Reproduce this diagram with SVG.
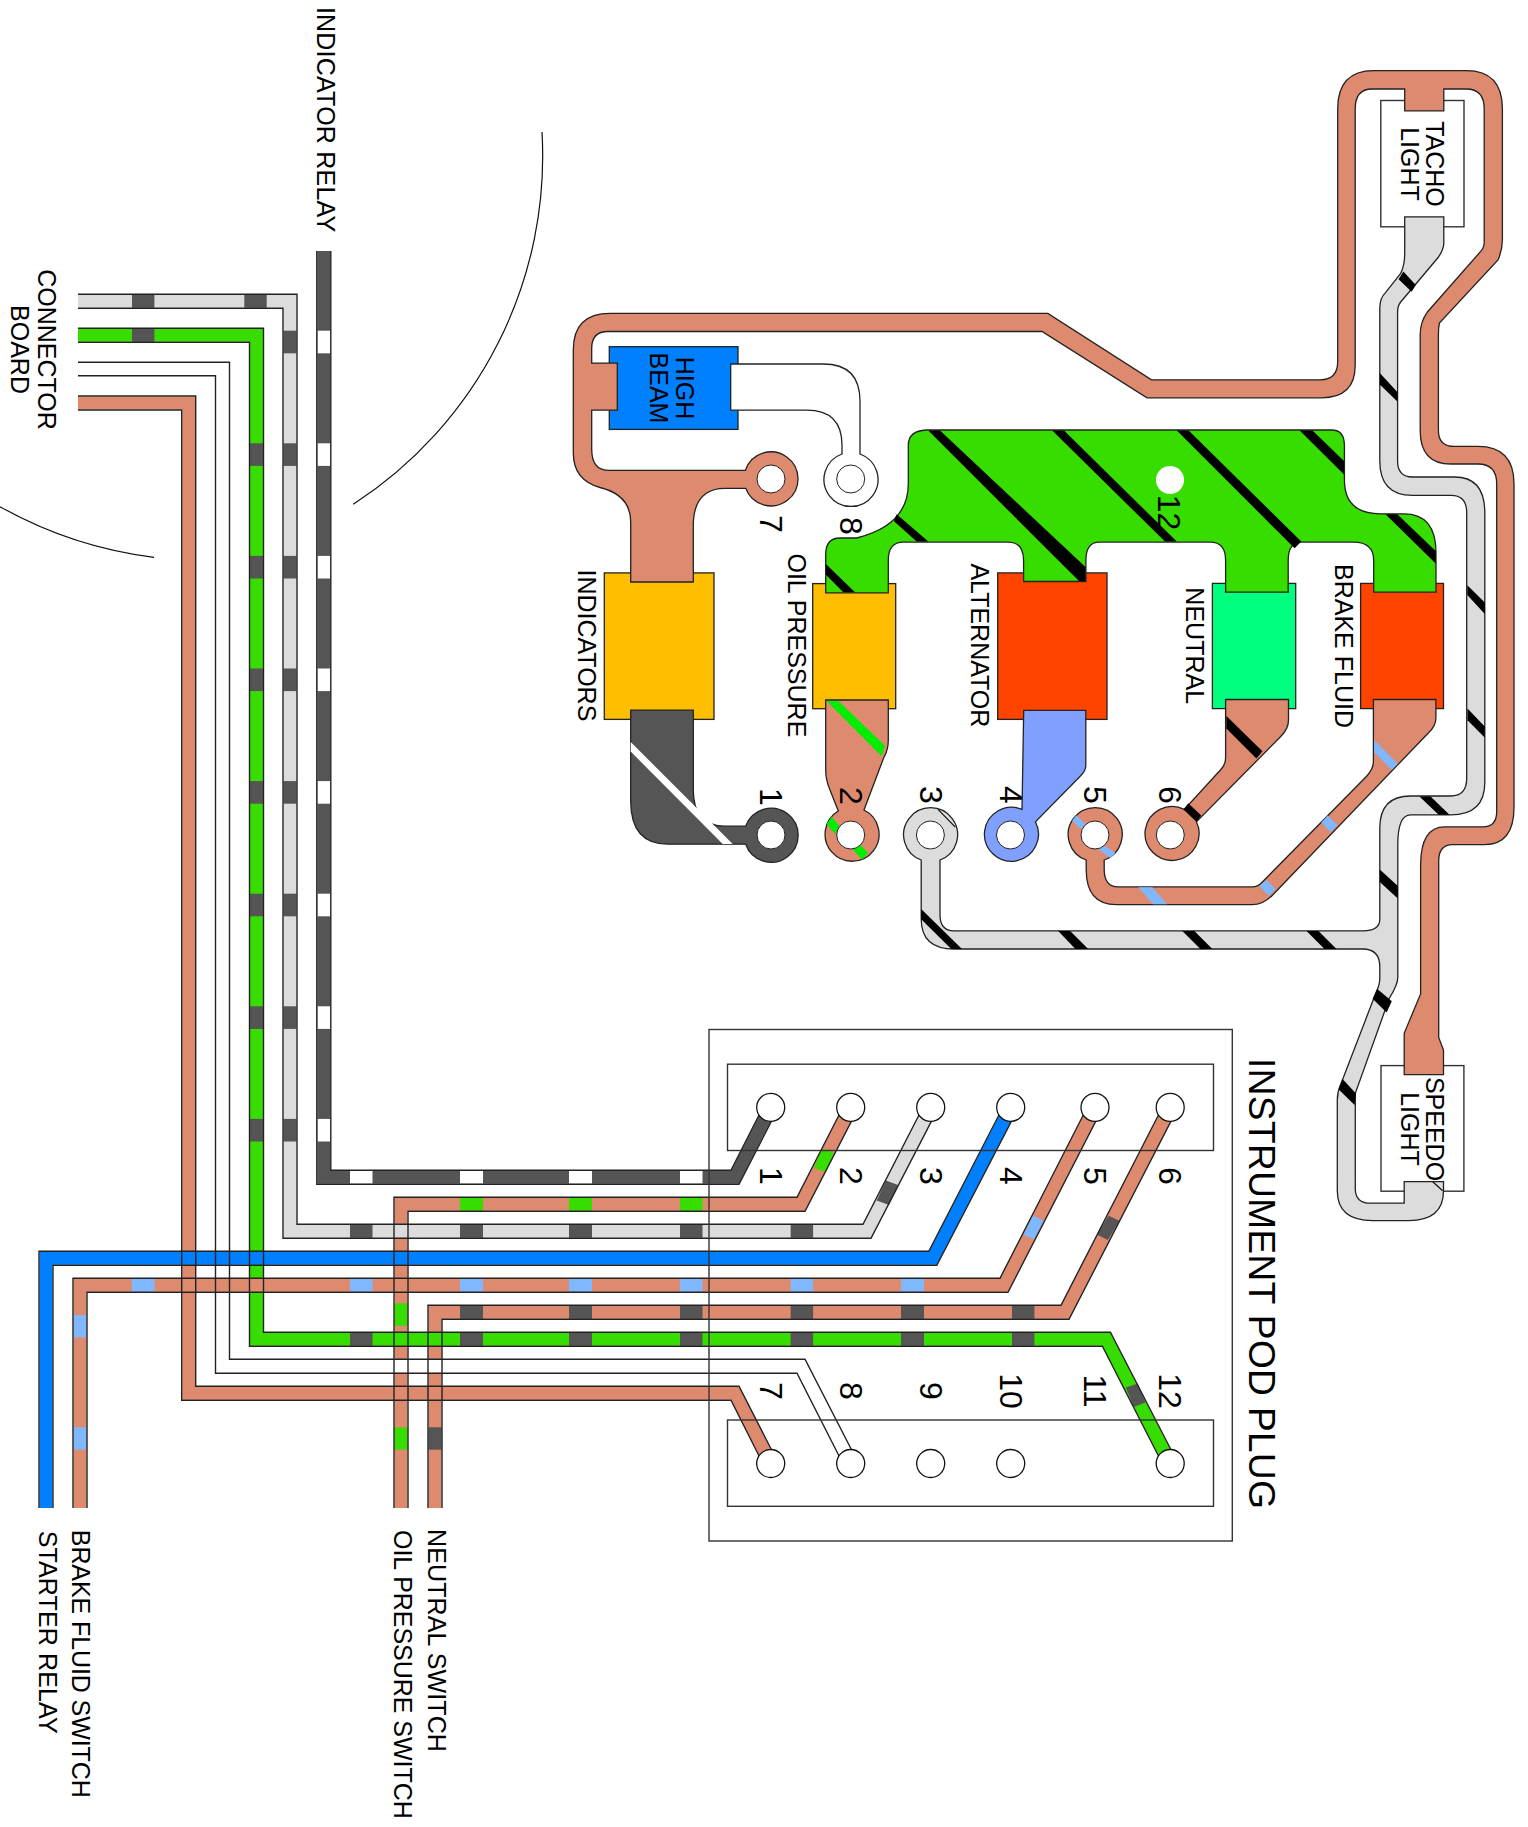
<svg xmlns="http://www.w3.org/2000/svg" width="1528" height="1827" viewBox="0 0 1528 1827">
<style>
text{font-family:"Liberation Sans",Arial,sans-serif;font-size:25px;fill:#000}
.c{text-anchor:middle}
.n{font-size:32px;text-anchor:middle}
.t{font-size:37px}
.f{fill:none;stroke-width:13;stroke-linejoin:miter}
.e{fill:none;stroke:#222;stroke-width:1.4}
.o{stroke:#222;stroke-width:1.3}
.b{fill:none;stroke:#333;stroke-width:1.4}
.brown{fill:#de8a6e}.grey{fill:#dcdcdc}.dark{fill:#555}.green{fill:#38dd00}.blue{fill:#007fff}.peri{fill:#80a0ff}
.amber{fill:#ffbf00}.red{fill:#ff4400}.spring{fill:#00ff7f}.white{fill:#fff}
.sd{fill:#555}.sw{fill:#fff}.sg{fill:#38dd00}.sb{fill:#80b8ff}.sk{fill:#000}.sl{fill:#00ee00}
.pin{fill:#fff;stroke:#111;stroke-width:1.3}
.hole{fill:#fff;stroke:#222;stroke-width:1}
.thin{fill:none;stroke:#111;stroke-width:1.2}
</style>

<g id="arcs">
<path class="thin" d="M542,132A415,415 0 0 1 353.3,504.3"/>
<path class="thin" d="M0,506.7A420,420 0 0 0 154,557.3"/>
</g>

<g id="connectors">
<g id="wire-fills">
<path class="f" stroke="#de8a6e" d="M401,1508V1204.3H801L850.7,1107.4"/>
<path class="f" stroke="#de8a6e" d="M435,1508V1312.3H1065L1170.2,1107.4"/>
<path class="f" stroke="#de8a6e" d="M78,403H188.7V1393.3H735L770.7,1463.5"/>
<path class="f" stroke="#fff" d="M78,369H222.5V1366.3H801L850.7,1463.5"/>
<path class="f" stroke="#38dd00" d="M78,335.3H256.5V1339.3H1106.4L1170.2,1463.5"/>
<path class="f" stroke="#de8a6e" d="M80,1508V1285.3H1004L1095,1107.4"/>
<path class="f" stroke="#007fff" d="M46,1508V1258.3H932.8L1010.7,1107.4"/>
<path class="f" stroke="#dcdcdc" d="M78,301.3H290V1231.3H867L930.7,1107.4"/>
<path class="f" stroke="#555" d="M323.8,251V1177.3H735L770.7,1107.4"/>
</g>
<g id="wire-bands">
<!-- relay wire vertical -->
<rect class="sw" x="317.5" y="330.7" width="13" height="22.6"/><rect class="sw" x="317.5" y="443.3" width="13" height="22.6"/><rect class="sw" x="317.5" y="555.9" width="13" height="22.6"/><rect class="sw" x="317.5" y="668.5" width="13" height="22.6"/><rect class="sw" x="317.5" y="781.1" width="13" height="22.6"/><rect class="sw" x="317.5" y="893.7" width="13" height="22.6"/><rect class="sw" x="317.5" y="1006.3" width="13" height="22.6"/><rect class="sw" x="317.5" y="1118.9" width="13" height="22.6"/>
<!-- grey vertical -->
<rect class="sd" x="283.5" y="330.7" width="13" height="22.6"/><rect class="sd" x="283.5" y="443.3" width="13" height="22.6"/><rect class="sd" x="283.5" y="555.9" width="13" height="22.6"/><rect class="sd" x="283.5" y="668.5" width="13" height="22.6"/><rect class="sd" x="283.5" y="781.1" width="13" height="22.6"/><rect class="sd" x="283.5" y="893.7" width="13" height="22.6"/><rect class="sd" x="283.5" y="1006.3" width="13" height="22.6"/><rect class="sd" x="283.5" y="1118.9" width="13" height="22.6"/>
<!-- green vertical -->
<rect class="sd" x="250" y="443.3" width="13" height="22.6"/><rect class="sd" x="250" y="555.9" width="13" height="22.6"/><rect class="sd" x="250" y="668.5" width="13" height="22.6"/><rect class="sd" x="250" y="781.1" width="13" height="22.6"/><rect class="sd" x="250" y="893.7" width="13" height="22.6"/><rect class="sd" x="250" y="1006.3" width="13" height="22.6"/><rect class="sd" x="250" y="1118.9" width="13" height="22.6"/>
<!-- connector board horizontals -->
<rect class="sd" x="132" y="294.8" width="22.4" height="13"/><rect class="sd" x="244.3" y="294.8" width="22.4" height="13"/><rect class="sd" x="132" y="328.8" width="22.4" height="13"/>
<!-- relay horizontal -->
<rect class="sw" x="350" y="1170.8" width="22.5" height="13"/><rect class="sw" x="460" y="1170.8" width="23" height="13"/><rect class="sw" x="569" y="1170.8" width="23" height="13"/><rect class="sw" x="680" y="1170.8" width="22.5" height="13"/>
<!-- oil horizontal -->
<rect class="sg" x="460" y="1197.8" width="23" height="13"/><rect class="sg" x="569" y="1197.8" width="23" height="13"/><rect class="sg" x="680" y="1197.8" width="22.5" height="13"/>
<!-- grey horizontal -->
<rect class="sd" x="350" y="1224.8" width="22.5" height="13"/><rect class="sd" x="460" y="1224.8" width="23" height="13"/><rect class="sd" x="569" y="1224.8" width="23" height="13"/><rect class="sd" x="680" y="1224.8" width="22.5" height="13"/><rect class="sd" x="790.6" y="1224.8" width="22.5" height="13"/>
<!-- brake horizontal -->
<rect class="sb" x="131.7" y="1278.8" width="22.8" height="13"/><rect class="sb" x="350" y="1278.8" width="22.5" height="13"/><rect class="sb" x="460" y="1278.8" width="23" height="13"/><rect class="sb" x="569" y="1278.8" width="23" height="13"/><rect class="sb" x="680" y="1278.8" width="22.5" height="13"/><rect class="sb" x="790.6" y="1278.8" width="22.5" height="13"/><rect class="sb" x="901" y="1278.8" width="23" height="13"/>
<!-- neutral horizontal -->
<rect class="sd" x="460" y="1305.8" width="23" height="13"/><rect class="sd" x="569" y="1305.8" width="23" height="13"/><rect class="sd" x="680" y="1305.8" width="22.5" height="13"/><rect class="sd" x="790.6" y="1305.8" width="22.5" height="13"/><rect class="sd" x="901" y="1305.8" width="23" height="13"/><rect class="sd" x="1012" y="1305.8" width="22.4" height="13"/>
<!-- green horizontal -->
<rect class="sd" x="350" y="1332.8" width="22.5" height="13"/><rect class="sd" x="460" y="1332.8" width="23" height="13"/><rect class="sd" x="569" y="1332.8" width="23" height="13"/><rect class="sd" x="680" y="1332.8" width="22.5" height="13"/><rect class="sd" x="790.6" y="1332.8" width="22.5" height="13"/><rect class="sd" x="901" y="1332.8" width="23" height="13"/><rect class="sd" x="1012" y="1332.8" width="22.4" height="13"/>
<!-- lower verticals -->
<rect class="sb" x="73.5" y="1315" width="13" height="22.4"/><rect class="sb" x="73.5" y="1427.3" width="13" height="22.4"/>
<rect class="sg" x="394.5" y="1303.3" width="13" height="22.4"/><rect class="sg" x="394.5" y="1427.3" width="13" height="22.4"/>
<rect class="sd" x="428.5" y="1427.3" width="13" height="22.4"/>
<!-- diagonal ends -->
<polygon class="sg" points="822,1148.8 833.8,1152.6 825.8,1172 814,1168"/>
<polygon class="sd" points="885.9,1180.4 898.1,1184.9 889,1204.9 876.7,1200.4"/>
<polygon class="sb" points="1032.8,1215.4 1043.6,1220.7 1034,1239.3 1023.3,1234.7"/>
<polygon class="sd" points="1108.6,1215.8 1119.3,1220.7 1107.9,1240 1097.1,1234.7"/>
<polygon class="sd" points="1125.8,1387.4 1137.7,1383.5 1145.4,1402.5 1133.8,1407"/>
</g>
<g id="wire-edges">
<path class="e" d="M316.8,251V1184.3H739L776.9,1110.6"/><path class="e" d="M330.8,251V1170.3H731L764.5,1104.2"/>
<path class="e" d="M394,1508V1197.3H797L844.5,1104.2"/><path class="e" d="M408,1508V1211.3H805L856.9,1110.6"/>
<path class="e" d="M78,294.3H297V1224.3H863L924.5,1104.2"/><path class="e" d="M78,308.3H283V1238.3H871L936.9,1110.6"/>
<path class="e" d="M39,1508V1251.3H928.8L1004.5,1104.2"/><path class="e" d="M53,1508V1265.3H936.8L1016.9,1110.6"/>
<path class="e" d="M73,1508V1278.3H1000L1088.8,1104.2"/><path class="e" d="M87,1508V1292.3H1008L1101.2,1110.6"/>
<path class="e" d="M428,1508V1305.3H1061L1164,1104.2"/><path class="e" d="M442,1508V1319.3H1069L1176.4,1110.6"/>
<path class="e" d="M78,328.3H263.5V1332.3H1110.4L1176.4,1460.3"/><path class="e" d="M78,342.3H249.5V1346.3H1102.4L1164,1466.7"/>
<path class="e" d="M78,362.3H229.5V1359.3H805L856.9,1460.3"/><path class="e" d="M78,375.7H215.5V1373.3H797L844.5,1466.7"/>
<path class="e" d="M78,396H195.7V1386.3H739L776.9,1460.3"/><path class="e" d="M78,410H181.7V1400.3H731L764.5,1466.7"/>
</g>
</g>

<g id="pod-plug">
<rect class="b" x="709" y="1029.5" width="523.3" height="511.5"/>
<rect class="b" x="727.5" y="1064.2" width="486" height="86.3"/>
<rect class="b" x="727.5" y="1420" width="486" height="86.3"/>
<circle class="pin" cx="770.7" cy="1107.4" r="14"/><circle class="pin" cx="850.7" cy="1107.4" r="14"/><circle class="pin" cx="930.7" cy="1107.4" r="14"/><circle class="pin" cx="1010.7" cy="1107.4" r="14"/><circle class="pin" cx="1095" cy="1107.4" r="14"/><circle class="pin" cx="1170.2" cy="1107.4" r="14"/>
<circle class="pin" cx="770.7" cy="1463.5" r="14"/><circle class="pin" cx="850.7" cy="1463.5" r="14"/><circle class="pin" cx="930.7" cy="1463.5" r="14"/><circle class="pin" cx="1010.7" cy="1463.5" r="14"/><circle class="pin" cx="1170.2" cy="1463.5" r="14"/>
<text class="t" transform="translate(1248.5,1058) rotate(90)" textLength="451">INSTRUMENT POD PLUG</text>
<text class="n" transform="translate(760,1176) rotate(90)">1</text><text class="n" transform="translate(840,1176) rotate(90)">2</text><text class="n" transform="translate(920,1176) rotate(90)">3</text><text class="n" transform="translate(1000,1176) rotate(90)">4</text><text class="n" transform="translate(1084,1176) rotate(90)">5</text><text class="n" transform="translate(1159,1176) rotate(90)">6</text>
<text class="n" transform="translate(760,1391) rotate(90)">7</text><text class="n" transform="translate(840,1391) rotate(90)">8</text><text class="n" transform="translate(920,1391) rotate(90)">9</text><text class="n" transform="translate(1000,1391) rotate(90)">10</text><text class="n" transform="translate(1084,1391) rotate(90)">11</text><text class="n" transform="translate(1159,1391) rotate(90)">12</text>
</g>

<g id="labels-harness">
<text transform="translate(316.8,6.9) rotate(90)" textLength="225.4">INDICATOR RELAY</text>
<text class="c" transform="translate(38,349.5) rotate(90)">CONNECTOR</text>
<text class="c" transform="translate(10.5,349.5) rotate(90)">BOARD</text>
<text transform="translate(39,1530.7) rotate(90)" textLength="203">STARTER RELAY</text>
<text transform="translate(72.3,1529.8) rotate(90)" textLength="268">BRAKE FLUID SWITCH</text>
<text transform="translate(393.5,1530) rotate(90)" textLength="288.8">OIL PRESSURE SWITCH</text>
<text transform="translate(427.5,1529.1) rotate(90)" textLength="222.8">NEUTRAL SWITCH</text>
</g>

<g id="tacho-light">
<rect class="b" x="1380.8" y="100.5" width="83.2" height="126.3"/>
<text class="c" transform="translate(1426,164) rotate(90)">TACHO</text>
<text class="c" transform="translate(1401,164) rotate(90)">LIGHT</text>
</g>
<g id="speedo-light">
<rect class="b" x="1381" y="1065.6" width="82.9" height="125.6"/>
</g>
<g id="high-beam">
<rect class="blue o" x="609.3" y="346.7" width="128.7" height="82.7"/>
<text class="c" transform="translate(675.5,388) rotate(90)">HIGH</text>
<text class="c" transform="translate(649.5,388) rotate(90)">BEAM</text>
</g>
<g id="indicators">
<rect class="amber o" x="604.3" y="572.9" width="109.7" height="146.5"/>
<text class="c" transform="translate(578,645.4) rotate(90)">INDICATORS</text>
</g>
<g id="oil-pressure">
<rect class="amber o" x="812.7" y="583.6" width="83" height="125.1"/>
<text class="c" transform="translate(788,645.4) rotate(90)">OIL PRESSURE</text>
</g>
<g id="alternator">
<rect class="red o" x="997.7" y="572.9" width="109.3" height="146.5"/>
<text class="c" transform="translate(971,645.4) rotate(90)">ALTERNATOR</text>
</g>
<g id="neutral">
<rect class="spring o" x="1212.4" y="583.4" width="83.3" height="125.2"/>
<text class="c" transform="translate(1186,645.7) rotate(90)">NEUTRAL</text>
</g>
<g id="brake-fluid">
<rect class="red o" x="1360.6" y="583.4" width="82.9" height="125.2"/>
<text class="c" transform="translate(1335,646) rotate(90)">BRAKE FLUID</text>
</g>

<g id="terminal-8">
<path class="white o" d="M730.7,364H823Q860,364 860,401V454A27,27 0 1 1 842,454V445.4Q842,410.2 806.7,410.2H730.7Z"/>
<circle class="hole" cx="850.7" cy="479" r="14"/>
<text class="n" transform="translate(840,525.8) rotate(90)">8</text>
</g>

<g id="feed-loop">
<path class="brown o" d="M630.7,582V522Q630.7,495 600,487.5Q573.3,480 573.3,453V350Q573.3,313.4 610,313.4H1047.8L1151.5,379.8H1320Q1337.7,379.8 1337.7,361.5V108.9Q1337.7,70.6 1373.7,70.6H1466.3Q1502.4,70.6 1502.4,108.9V239Q1502.4,250 1498,260L1439.4,323Q1438.4,328 1438.4,335V430.4Q1438.4,446.4 1454.5,446.4H1478Q1514,446.4 1514,484V807Q1514,844.6 1484.7,844.6H1452.7Q1438.7,844.6 1438.7,861V1037.4L1443.5,1050V1074.7H1404.2V1033.3L1420.6,993.9V865.3Q1420.6,826.8 1444.7,826.8H1482.7Q1496.7,826.8 1496.7,811.4V484Q1496.7,464 1478,464H1451Q1420.2,464 1420.2,430.4V334.7Q1420.2,322 1427.6,311.7L1479.8,252.4Q1484.2,248 1484.2,242.8V108.9Q1484.2,89 1466.3,89H1443.8V110.8H1404.7V89H1372Q1355.2,89 1355.2,108.9V365.3Q1355.2,397.8 1321.5,397.8H1147L1042,331.5H608Q591.7,331.5 591.7,348V363.1H617.3V410.2H591.7V449Q591.7,470.3 608.3,470.3H745.4A27,27 0 1 1 745.7,488.3H725Q693.3,488.3 693.3,525.8V582Z"/>
<circle class="hole" cx="771" cy="479" r="14"/>
<text class="n" transform="translate(760,524) rotate(90)">7</text>
</g>

<g id="speedo-label">
<text class="c" transform="translate(1426,1129) rotate(90)">SPEEDO</text>
<text class="c" transform="translate(1401,1129) rotate(90)">LIGHT</text>
</g>

<g id="earth-loop">
<path class="grey o" d="M1404.7,216.8H1443.8V242.8Q1443.8,250 1437.7,258L1400.7,302Q1397.6,306 1397.6,311.7V461Q1397.6,477 1412.5,477H1454.5Q1484.8,477 1484.8,512.6V782.4Q1484.8,814.8 1450.7,814.8H1410.6Q1397.8,814.8 1397.8,844.6V977.3Q1397.8,985 1389.4,998L1355.3,1093.4V1188.7Q1355.3,1203.2 1370.6,1203.2H1404.2V1181.7H1443.5V1190.8Q1443.5,1220.6 1408.6,1220.6H1372.6Q1337.3,1220.6 1337.3,1190.8V1100Q1337.3,1092 1340.5,1085L1377,990Q1379.8,985 1379.8,977.3V967Q1379.8,949 1362.6,949H954Q921.2,949 921.2,919V860A27,27 0 1 1 940,860V915Q940,930.8 954,930.8H1362.6Q1379.8,930.8 1379.8,919.2V828Q1379.8,796 1410.6,796H1450.7Q1466.7,796 1466.7,778.3V512.6Q1466.7,495.4 1451,495.4H1412.5Q1379.8,495.4 1379.8,461V307.9Q1379.8,298 1385.5,292.6L1400.7,273.4Q1404.7,265 1404.7,254Z"/>
<polygon class="sk" points="1403.4,271.5 1415.8,285 1411.6,291.8 1398.6,279.2"/>
<polygon class="sk" points="1379.8,373 1397.3,392 1397.3,401.6 1379.8,384.4"/>
<polygon class="sk" points="1467.3,585.3 1484.8,602.6 1484.8,614 1467.3,595"/>
<polygon class="sk" points="1467.5,708.6 1484.7,726.5 1484.7,737.6 1467.5,720.2"/>
<polygon class="sk" points="1419.4,796.5 1430.6,796.5 1449.5,814.8 1438.7,814.8"/>
<polygon class="sk" points="1379.8,869.5 1397.8,886 1397.8,898.5 1379.8,882"/>
<polygon class="sk" points="1377.4,989 1391.8,1001.3 1386.6,1012.5 1372.6,998.8"/>
<polygon class="sk" points="1342.5,1078.9 1356,1093.4 1354.6,1105 1338.5,1089.2"/>
<polygon class="sk" points="1306.5,931 1318.5,931 1336.5,949 1324.5,949"/>
<polygon class="sk" points="1182.3,931 1194.4,931 1212.4,949 1200.4,949"/>
<polygon class="sk" points="1058.2,931 1070.2,931 1088.2,949 1075.4,949"/>
<polygon class="sk" points="921.2,908.9 962,949 951.3,949 921.2,919.2"/>
<path class="thin" d="M938,809.4L955.3,827.2M1432.7,1181.7L1442.7,1190.8"/>
<circle class="hole" cx="930.4" cy="835" r="14"/>
<text class="n" transform="translate(920,795) rotate(90)">3</text>
</g>

<g id="ignition-bus">
<path class="green o" d="M825.7,592.8V554.5Q825.7,538 840,538H856.7Q908.3,525 908.3,483.7V445.4Q908.3,430 928.3,430H1331.7Q1344.4,430 1344.4,445.7V480Q1344.4,513.8 1380.5,513.8H1404Q1436,513.8 1436,552.8V592.2H1373.7V560.5Q1373.7,542.1 1353.5,542.1H1301.3Q1288.2,542.1 1288.2,560.5V592.2H1225.6V560.5Q1225.6,542.1 1210.4,542.1H1099.3Q1085.9,542.1 1085.9,560.5V581.5H1023.6V560.5Q1023.6,542.1 1008.4,542.1H903.3Q888.3,542.1 888.3,560.2V592.8Z"/>
<polygon class="sk" points="1299.7,430.6 1312.5,430.6 1344,461 1344,474.4"/>
<polygon class="sk" points="1176.8,430.6 1188.6,430.6 1301.3,541.5 1294.6,548.2"/>
<polygon class="sk" points="1052.2,430.6 1064,430.6 1176.8,541.5 1165,541.5"/>
<polygon class="sk" points="928.3,430.6 940,430.6 1085.5,567 1085.5,581 1079,581"/>
<polygon class="sk" points="896.7,514.3 928.3,541.5 916.7,541.5 894,521.2"/>
<polygon class="sk" points="825.9,564 855,592.3 843.3,592.3 825.9,574.8"/>
<polygon class="sk" points="1385.5,514.2 1397.3,514.2 1435.7,550.9 1435.7,563.5"/>
<circle cx="1170" cy="480" r="14" fill="#fff"/>
<text class="n" transform="translate(1158,512.6) rotate(90)">12</text>
</g>

<g id="terminal-1">
<path class="dark o" d="M630.7,710.2H693.3V790Q693.3,826.2 725,826.2H745.7A27,27 0 1 1 745.7,844.2H668Q630.7,844.2 630.7,801Z"/>
<polygon class="sw" points="630.7,742 630.7,751.6 722.7,844 732.7,844"/>
<circle class="hole" cx="771" cy="835" r="14"/>
<text class="n" transform="translate(760,797) rotate(90)">1</text>
</g>
<g id="terminal-2">
<path class="brown o" d="M825.7,700H888.3V740Q888.3,750 884,757L864,810A27,27 0 1 1 838.3,811L830,790Q825.7,780 825.7,770Z"/>
<polygon class="sl" points="826.7,701 838.3,701 885,745.8 881.7,756.2"/>
<polygon class="sl" points="831.7,816.7 839.3,826 835,833.9 826.7,824"/>
<polygon class="sl" points="851.7,848 861.7,859.5 868.3,853 858.3,843"/>
<circle class="hole" cx="850.7" cy="835" r="14"/>
<text class="n" transform="translate(840,796) rotate(90)">2</text>
</g>
<g id="terminal-4">
<path class="peri o" d="M1023.7,710.3H1085.8V765.8Q1085.8,771 1080.2,776.2L1035.4,821.8A27,27 0 1 1 1022,809.4Z"/>
<circle class="hole" cx="1010.5" cy="835" r="14"/>
<text class="n" transform="translate(1000,795) rotate(90)">4</text>
</g>
<g id="terminal-5">
<path class="brown o" d="M1373.4,699.5H1435.9V718Q1435.9,726 1428.6,732.7L1272.4,895.2Q1263,904.7 1252.4,904.7H1116.3Q1086.2,904.7 1086.2,869.5V860A27,27 0 1 1 1104.2,860V869.5Q1104.2,886.9 1118.3,886.9H1252.4Q1258,886.9 1262.4,882L1366.6,776.2Q1373.4,769 1373.4,761.7Z"/>
<polygon class="sb" points="1374.2,740.1 1397.8,763.8 1391.8,770 1374.2,752.2"/>
<polygon class="sb" points="1327.7,815.6 1337.3,825.1 1330.5,832.2 1321.3,822.6"/>
<polygon class="sb" points="1266.4,879.9 1275.7,889 1268.4,895.6 1259.2,886.1"/>
<polygon class="sb" points="1138.3,887.3 1152.3,887.3 1167.1,904.3 1153.1,904.3"/>
<polygon class="sb" points="1076.2,815.6 1085.4,823.9 1081,828.9 1072.2,820.6"/>
<polygon class="sb" points="1104.2,845.4 1115.5,852.9 1110.3,857.9 1099,849.6"/>
<circle class="hole" cx="1095" cy="835" r="14"/>
<text class="n" transform="translate(1084,795) rotate(90)">5</text>
</g>
<g id="terminal-6">
<path class="brown o" d="M1225.6,699.5H1288.5V720Q1288.5,729 1280.5,736.8L1196.4,821.8A27,27 0 1 1 1184.3,809.4L1220.4,770Q1225.6,765 1225.6,757.5Z"/>
<polygon class="sk" points="1226.4,716 1262.4,751.3 1256.4,758.4 1226.4,728.5"/>
<polygon class="sk" points="1188.3,803.2 1201.2,815.6 1196.4,821.8 1183.5,809.4"/>
<circle class="hole" cx="1170.3" cy="835" r="14"/>
<text class="n" transform="translate(1159,795) rotate(90)">6</text>
</g>
</svg>
